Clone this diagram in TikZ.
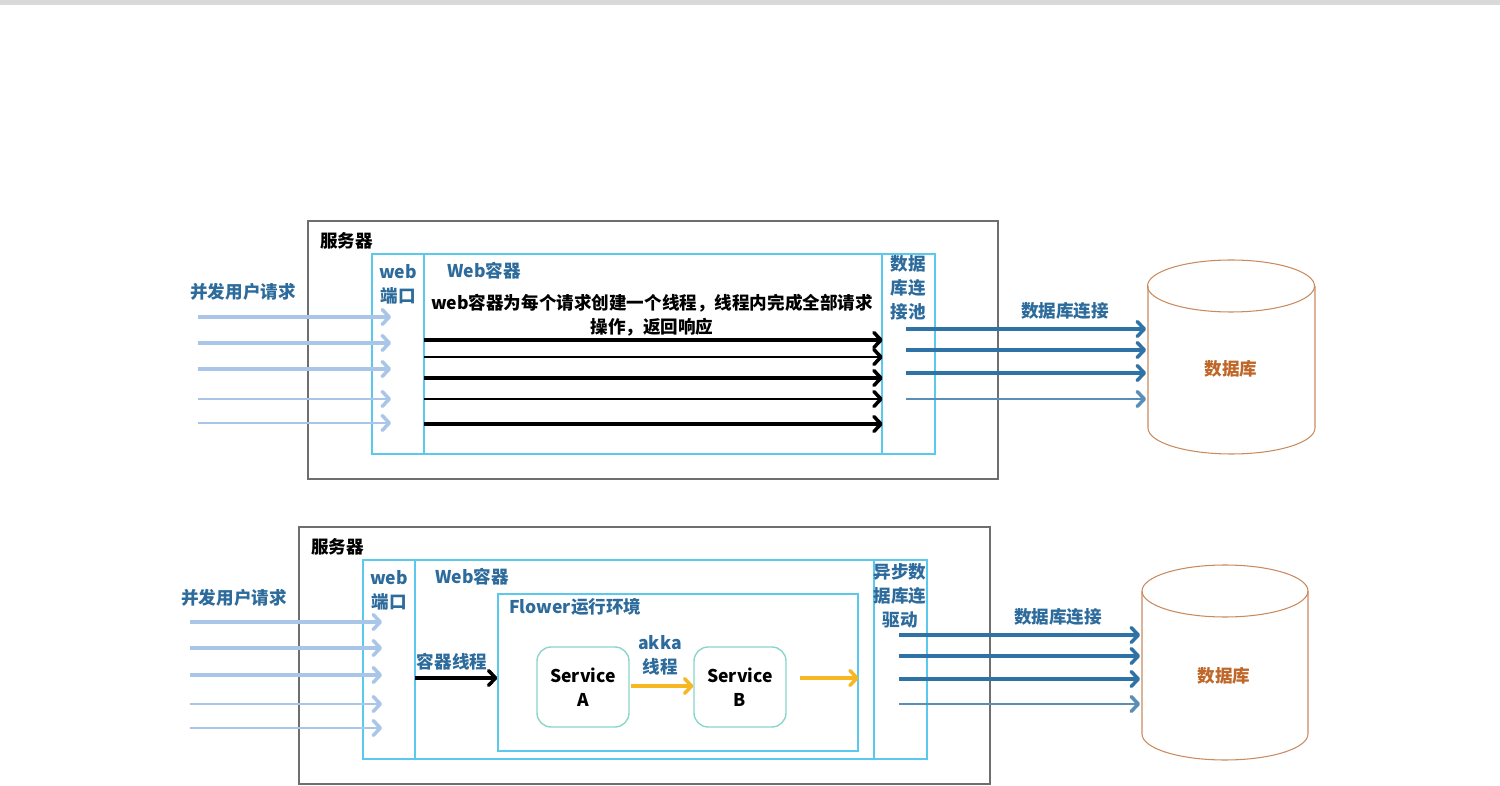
\documentclass[tikz,border=0pt]{standalone}
\usepackage{fontspec}
\setmainfont{Noto Sans CJK SC}
\usetikzlibrary{arrows.meta,fit}
\definecolor{cyanbox}{HTML}{5BC8EE}
\definecolor{lblue}{HTML}{2C6B9B}
\definecolor{reqblue}{HTML}{A9C6E9}
\definecolor{dbblue}{HTML}{2F72A6}
\definecolor{dbline}{HTML}{C98A5E}
\definecolor{dbtext}{HTML}{BF6629}
\definecolor{svcline}{HTML}{8AD6CA}
\definecolor{akka}{HTML}{F6B722}
\definecolor{srvgray}{HTML}{6E6E6E}
\begin{document}
\begin{tikzpicture}[x=0.02cm,y=-0.02cm,font=\fontsize{10}{13.6}\selectfont\bfseries,
  srvbox/.style={draw=srvgray,line width=0.8pt,inner sep=0pt},
  cbox/.style={draw=cyanbox,line width=0.8pt,inner sep=0pt},
  lbl/.style={text=lblue,inner sep=0pt,align=center},
  tip/.style={-{Straight Barb[length=4pt,width=8.5pt,line width=2pt 0,round]}},
  req/.style={tip,draw=reqblue,line width=2pt},
  thr/.style={tip,draw=black,line width=2pt},
  conn/.style={tip,draw=dbblue,line width=2pt},
  ak/.style={tip,draw=akka,line width=2pt},
  svc/.style={draw=svcline,line width=0.8pt,rounded corners=8pt,align=center,minimum width=1.84cm,minimum height=1.6cm},
  db/.style={draw=dbline,line width=0.6pt}]
\useasboundingbox (0,0) rectangle (1500,786);
\fill[black!15] (0,0) rectangle (1500,5);

\node[srvbox,fit={(308,221) (998,479)}] (srvA) {};
\node[cbox,fit={(372,254) (424,454)}] (portA) {};
\node[cbox,fit={(424,254) (882,454)}] (wcA) {};
\node[cbox,fit={(882,254) (935,454)}] (poolA) {};
\node[anchor=west,inner sep=0pt] (srvAt) at (320,241) {服务器};
\node[lbl] (portAt) at (398,284) {web\\端口};
\node[lbl,anchor=west] (wcAt) at (447,271) {Web容器};
\node[inner sep=0pt,align=center] (thrAt) at (652,315) {web容器为每个请求创建一个线程，线程内完成全部请求\\操作，返回响应};
\node[lbl] (poolAt) at (908,288) {数据\\库连\\接池};
\node[lbl] (userA) at (243,292) {并发用户请求};
\node[lbl] (connA) at (1065,311) {数据库连接};
\draw[db] (1231,286) ellipse [x radius=1.67cm, y radius=0.52cm];
\draw[db] (1148,286) -- (1148,428) arc[start angle=180, end angle=360, x radius=1.67cm, y radius=0.52cm] -- (1315,286);
\node[inner sep=0pt,text=dbtext] (dbA) at (1231,369) {数据库};

\coordinate (qa1) at (198,317); \coordinate (pa1) at (391,317);
\coordinate (qa2) at (198,343); \coordinate (pa2) at (391,343);
\coordinate (qa3) at (198,369); \coordinate (pa3) at (391,369);
\coordinate (qa4) at (198,399); \coordinate (pa4) at (391,399);
\coordinate (qa5) at (198,423); \coordinate (pa5) at (391,423);
\draw[req,line width=2.2pt] (qa1) -- (pa1);
\draw[req,line width=2.2pt] (qa2) -- (pa2);
\draw[req,line width=2.2pt] (qa3) -- (pa3);
\draw[req,line width=1.3pt] (qa4) -- (pa4);
\draw[req,line width=1.3pt] (qa5) -- (pa5);

\coordinate (ta1) at (424,340);
\coordinate (ta2) at (424,357);
\coordinate (ta3) at (424,378);
\coordinate (ta4) at (424,399);
\coordinate (ta5) at (424,424);
\draw[thr,line width=2.3pt] (ta1) -- (ta1 -| wcA.east);
\draw[thr,line width=1.6pt] (ta2) -- (ta2 -| wcA.east);
\draw[thr,line width=2.3pt] (ta3) -- (ta3 -| wcA.east);
\draw[thr,line width=1.6pt] (ta4) -- (ta4 -| wcA.east);
\draw[thr,line width=1.8pt] (ta5) -- (ta5 -| wcA.east);

\coordinate (ca1) at (906,329); \coordinate (da1) at (1146,329);
\coordinate (ca2) at (906,350); \coordinate (da2) at (1146,350);
\coordinate (ca3) at (906,373); \coordinate (da3) at (1146,373);
\coordinate (ca4) at (906,399); \coordinate (da4) at (1146,399);
\draw[conn] (ca1) -- (da1);
\draw[conn] (ca2) -- (da2);
\draw[conn] (ca3) -- (da3);
\draw[conn,line width=1.2pt,draw=dbblue!80] (ca4) -- (da4);

\node[srvbox,fit={(299,527) (990,784)}] (srvB) {};
\node[cbox,fit={(363,560) (415,759)}] (portB) {};
\node[cbox,fit={(415,560) (874,759)}] (wcB) {};
\node[cbox,fit={(874,560) (927,759)}] (drvB) {};
\node[cbox,fit={(498,594) (858,751)}] (flower) {};
\node[anchor=west,inner sep=0pt] (srvBt) at (311,547) {服务器};
\node[lbl] (portBt) at (389,590) {web\\端口};
\node[lbl,anchor=west] (wcBt) at (435,577) {Web容器};
\node[lbl,anchor=west] (flowert) at (509,607) {Flower运行环境};
\node[lbl] (thrBt) at (452,662) {容器线程};
\node[lbl] (akkat) at (660,655) {akka\\线程};
\node[svc] (svcA) at (583,687) {Service\\A};
\node[svc] (svcB) at (740,687) {Service\\B};
\node[lbl] (drvBt) at (900,596) {异步数\\据库连\\驱动};
\node[lbl] (userB) at (234,598) {并发用户请求};
\node[lbl] (connB) at (1058,617) {数据库连接};
\draw[db] (1225,591) ellipse [x radius=1.66cm, y radius=0.52cm];
\draw[db] (1142,591) -- (1142,734) arc[start angle=180, end angle=360, x radius=1.66cm, y radius=0.52cm] -- (1308,591);
\node[inner sep=0pt,text=dbtext] (dbB) at (1224,676) {数据库};

\coordinate (qb1) at (190,622); \coordinate (pb1) at (382,622);
\coordinate (qb2) at (190,648); \coordinate (pb2) at (382,648);
\coordinate (qb3) at (190,675); \coordinate (pb3) at (382,675);
\coordinate (qb4) at (190,704); \coordinate (pb4) at (382,704);
\coordinate (qb5) at (190,728); \coordinate (pb5) at (382,728);
\draw[req,line width=2.2pt] (qb1) -- (pb1);
\draw[req,line width=2.2pt] (qb2) -- (pb2);
\draw[req,line width=2.2pt] (qb3) -- (pb3);
\draw[req,line width=1.3pt] (qb4) -- (pb4);
\draw[req,line width=1.3pt] (qb5) -- (pb5);

\coordinate (tb1) at (415,678);
\draw[thr,line width=2.3pt] (tb1) -- (tb1 -| flower.west);
\coordinate (ab1) at (631,686);
\draw[ak] (ab1) -- (ab1 -| svcB.west);
\coordinate (ab2) at (800,678);
\draw[ak] (ab2) -- (ab2 -| flower.east);

\coordinate (cb1) at (899,635); \coordinate (db1) at (1140,635);
\coordinate (cb2) at (899,656); \coordinate (db2) at (1140,656);
\coordinate (cb3) at (899,679); \coordinate (db3) at (1140,679);
\coordinate (cb4) at (899,704); \coordinate (db4) at (1140,704);
\draw[conn] (cb1) -- (db1);
\draw[conn] (cb2) -- (db2);
\draw[conn] (cb3) -- (db3);
\draw[conn,line width=1.2pt,draw=dbblue!80] (cb4) -- (db4);
\end{tikzpicture}
\end{document}
